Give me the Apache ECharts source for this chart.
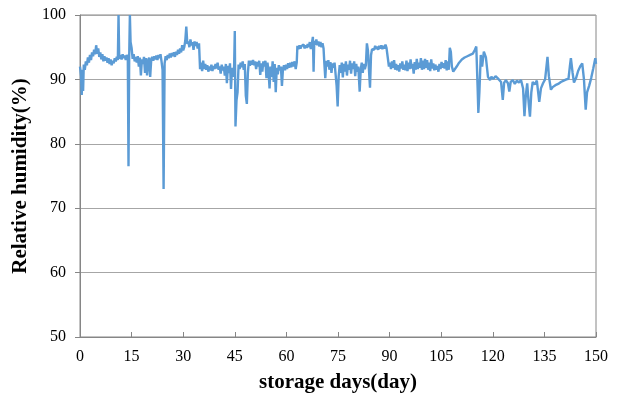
<!DOCTYPE html>
<html><head><meta charset="utf-8">
<script src="https://cdn.jsdelivr.net/npm/echarts@6/dist/echarts.min.js"></script>
<style>html,body{margin:0;padding:0;background:#fff}#c{width:621px;height:407px}</style>
</head><body><div id="c"></div>
<script>
const xTicks = [0,15,30,45,60,75,90,105,120,135,150];
const yTicks = [50,60,70,80,90,100];
const rhData = [
[0,92.0],[0.3,90.5],[0.5,87.6],[0.7,91.5],[0.9,88.2],[1.1,92.3],[1.4,91.5],[1.7,92.8],[2.0,92.2],[2.3,93.4],[2.6,92.6],[2.9,93.8],[3.2,93.0],[3.5,94.2],[3.8,93.6],[4.1,94.6],[4.4,93.9],[4.7,95.3],[5.0,94.0],[5.3,94.8],[5.6,93.5],[5.9,94.2],[6.2,93.1],[6.5,93.9],[6.8,92.8],[7.1,93.6],[7.4,92.9],[7.7,93.4],[8.0,92.6],[8.3,93.3],[8.6,92.4],[8.9,93.1],[9.2,92.2],[9.5,92.9],[9.8,92.5],[10.1,93.3],[10.4,92.8],[10.7,93.5],[11.0,93.0],[11.2,100],[11.4,93.2],[11.8,93.8],[12.1,93.1],[12.4,93.9],[12.7,93.3],[13.0,93.7],[13.3,93.0],[13.6,93.8],[13.9,93.2],[14.1,76.5],[14.3,93.5],[14.5,100],[14.7,95.8],[15.0,94.9],[15.3,93.2],[15.6,93.9],[15.9,92.8],[16.2,93.5],[16.5,92.6],[16.8,93.6],[17.1,92.0],[17.4,93.4],[17.7,90.6],[18.0,93.1],[18.3,92.4],[18.6,93.5],[18.9,91.0],[19.2,93.3],[19.5,90.6],[19.8,92.8],[20.1,93.4],[20.4,90.4],[20.7,93.0],[21.0,93.5],[21.3,92.9],[21.6,93.6],[21.9,93.1],[22.2,93.7],[22.5,93.0],[22.8,93.8],[23.1,93.3],[23.4,93.9],[23.7,92.8],[24.0,91.5],[24.3,73.0],[24.6,92.5],[24.9,93.6],[25.2,93.0],[25.5,93.8],[25.8,93.3],[26.1,94.0],[26.4,93.4],[26.7,94.1],[27.0,93.6],[27.3,94.2],[27.6,93.5],[27.9,94.3],[28.2,93.8],[28.5,94.6],[28.8,94.0],[29.1,94.8],[29.4,94.2],[29.7,95.3],[30.0,94.5],[30.3,95.0],[30.6,96.0],[30.9,98.2],[31.2,95.5],[31.5,95.9],[31.8,95.0],[32.1,96.2],[32.4,95.3],[32.7,95.8],[33.0,94.6],[33.3,95.9],[33.6,95.2],[33.9,95.8],[34.2,94.8],[34.6,95.6],[34.9,91.6],[35.2,92.6],[35.5,91.3],[35.8,92.9],[36.1,91.6],[36.4,92.4],[36.7,91.5],[37.0,92.2],[37.3,91.2],[37.6,92.0],[37.9,91.4],[38.2,92.3],[38.5,91.3],[38.8,92.1],[39.1,91.6],[39.4,92.4],[39.7,91.7],[40.0,92.6],[40.3,91.5],[40.6,92.0],[40.9,90.9],[41.2,92.3],[41.5,91.4],[41.8,92.0],[42.1,90.6],[42.4,92.4],[42.7,89.4],[43.0,92.1],[43.3,91.0],[43.6,92.5],[43.9,88.5],[44.2,91.8],[44.5,90.4],[44.8,92.0],[45.0,97.5],[45.2,82.7],[45.5,86.8],[45.8,88.0],[46.1,92.3],[46.4,91.6],[46.7,92.6],[47.0,91.9],[47.3,92.8],[47.6,91.5],[47.9,92.4],[48.2,87.5],[48.5,86.2],[48.8,91.0],[49.1,92.9],[49.4,92.1],[49.7,92.9],[50.0,92.3],[50.3,93.0],[50.6,92.2],[50.9,92.8],[51.2,91.6],[51.5,92.7],[51.8,92.0],[52.1,92.9],[52.4,90.7],[52.7,92.5],[53.0,91.2],[53.3,92.8],[53.6,92.0],[53.9,92.9],[54.2,90.2],[54.5,92.6],[54.8,91.3],[55.1,88.6],[55.4,92.0],[55.7,90.4],[56.0,92.8],[56.3,89.6],[56.6,92.4],[56.9,88.0],[57.2,91.8],[57.5,90.8],[57.8,92.2],[58.1,91.4],[58.4,92.0],[58.7,89.0],[59.0,91.6],[59.3,92.2],[59.6,91.4],[59.9,92.3],[60.2,91.6],[60.5,92.5],[60.8,91.8],[61.1,92.6],[61.4,91.9],[61.7,92.7],[62.0,92.0],[62.4,92.8],[62.7,91.6],[63.0,92.6],[63.2,95.2],[63.5,94.7],[63.8,95.3],[64.1,94.8],[64.4,95.2],[64.7,94.9],[65.0,95.4],[65.3,94.8],[65.6,95.3],[65.9,94.9],[66.2,95.5],[66.5,95.0],[66.8,95.8],[67.1,94.7],[67.4,95.6],[67.7,96.6],[67.9,91.2],[68.1,96.0],[68.4,95.4],[68.7,96.2],[69.0,95.3],[69.3,95.9],[69.6,95.1],[69.9,95.8],[70.2,95.0],[70.5,95.6],[70.8,94.8],[71.0,92.8],[71.3,90.2],[71.6,92.9],[71.9,92.0],[72.2,93.0],[72.5,91.5],[72.8,92.7],[73.1,91.0],[73.4,92.5],[73.7,91.8],[74.0,92.6],[74.3,90.8],[74.6,89.0],[74.9,85.8],[75.2,90.5],[75.5,92.2],[75.8,91.0],[76.1,92.6],[76.4,90.3],[76.7,92.4],[77.0,91.2],[77.3,92.8],[77.6,90.6],[77.9,92.3],[78.2,91.5],[78.5,92.9],[78.8,90.9],[79.1,92.5],[79.4,91.6],[79.7,92.8],[80.0,90.5],[80.3,92.4],[80.6,91.2],[80.9,92.0],[81.3,88.1],[81.6,91.5],[81.9,92.6],[82.2,91.0],[82.5,92.4],[82.8,91.6],[83.1,92.2],[83.4,95.6],[83.7,94.5],[84.0,91.5],[84.3,88.7],[84.6,93.8],[84.9,94.7],[85.2,95.0],[85.5,94.6],[85.8,95.2],[86.1,94.7],[86.4,95.1],[86.7,94.6],[87.0,95.2],[87.3,94.8],[87.6,95.3],[87.9,94.7],[88.2,95.2],[88.5,94.8],[88.8,95.4],[89.1,94.9],[89.5,95.2],[89.8,92.0],
[90.1,92.6],[90.4,91.6],[90.7,92.8],[91.0,91.8],[91.3,93.0],[91.6,91.5],[91.9,92.4],[92.2,91.4],[92.5,92.2],[92.8,91.2],[93.1,92.5],[93.4,91.7],[93.7,92.8],[94.0,91.5],[94.3,92.3],[94.6,91.4],[94.9,92.9],[95.2,91.3],[95.5,92.6],[95.8,91.6],[96.1,93.1],[96.4,91.7],[96.7,92.4],[97.0,90.9],[97.3,92.7],[97.6,91.5],[97.9,93.2],[98.2,91.6],[98.5,92.6],[98.8,91.8],[99.1,93.3],[99.4,91.5],[99.7,92.9],[100.0,91.6],[100.3,93.2],[100.6,91.8],[100.9,93.0],[101.2,91.5],[101.5,92.6],[101.8,91.3],[102.1,93.1],[102.4,91.7],[102.7,92.5],[103.0,91.4],[103.3,92.3],[103.6,91.5],[103.9,92.1],[104.2,91.2],[104.5,92.4],[104.8,91.6],[105.1,92.7],[105.4,91.8],[105.7,92.5],[106.0,91.7],[106.3,93.0],[106.6,91.4],[106.9,92.8],[107.2,91.5],[107.5,94.9],[107.8,94.3],[108.1,92.0],[108.5,91.2],[108.9,91.4],[109.5,92.0],[110.2,92.6],[111.0,93.1],[111.8,93.4],[112.6,93.6],[113.4,93.8],[114.2,94.0],[114.8,94.6],[115.2,95.1],[115.6,88.5],[115.8,84.8],[116.1,88.0],[116.5,93.8],[116.9,92.0],[117.4,94.3],[118.0,93.4],[118.6,90.4],[119.2,89.9],[119.6,90.4],[120.2,90.1],[120.8,90.5],[121.4,90.2],[121.9,90.4],[122.4,89.6],[122.9,86.8],[123.3,89.5],[123.8,89.9],[124.4,89.4],[124.8,88.1],[125.2,89.6],[125.8,89.9],[126.4,89.3],[127.0,89.8],[127.6,89.5],[128.2,89.9],[128.8,88.6],[129.2,84.3],[129.6,87.5],[130.0,89.4],[130.4,86.5],[130.8,84.2],[131.2,88.0],[131.6,89.6],[132.2,89.2],[132.8,89.8],[133.5,86.5],[134.0,88.6],[134.6,89.4],[135.2,90.0],[135.6,92.0],[135.9,93.5],[136.3,90.5],[136.9,88.4],[137.4,88.8],[138.2,89.1],[139.0,89.3],[139.8,89.6],[140.6,89.8],[141.4,90.0],[142.0,90.1],[142.4,92.0],[142.7,93.3],[143.2,91.0],[143.6,89.5],[144.2,90.2],[144.8,91.3],[145.4,92.0],[146.0,92.5],[146.5,90.0],[147.0,85.3],[147.4,88.0],[148.0,89.0],[148.6,90.2],[149.2,91.7],[149.8,93.3],[150,92.4]
];
const xName = 'storage days(day)';
const yName = 'Relative humidity(%)';

const chart = echarts.init(document.getElementById('c'), null, {renderer:'canvas'});
const font = '"Liberation Serif", "Times New Roman", serif';
chart.setOption({
  animation:false,
  backgroundColor:'#fff',
  grid:{left:80, right:25, top:15, bottom:70, show:true, borderColor:'#868686', borderWidth:1},
  xAxis:{
    type:'value', min:xTicks[0], max:xTicks[xTicks.length-1], interval:15,
    name:xName, nameLocation:'middle', nameGap:35,
    nameTextStyle:{fontFamily:font, fontSize:21, fontWeight:'bold', color:'#000'},
    axisLine:{show:true, lineStyle:{color:'#868686', width:1}},
    axisTick:{show:true, inside:true, length:5, lineStyle:{color:'#868686'}},
    axisLabel:{fontFamily:font, fontSize:16, color:'#000', margin:12},
    splitLine:{show:false}
  },
  yAxis:{
    type:'value', min:yTicks[0], max:yTicks[yTicks.length-1], interval:10,
    name:yName, nameLocation:'middle', nameGap:45,
    nameTextStyle:{fontFamily:font, fontSize:21, fontWeight:'bold', color:'#000'},
    axisLine:{show:true, lineStyle:{color:'#868686', width:1}},
    axisTick:{show:true, inside:false, length:5, lineStyle:{color:'#868686'}},
    axisLabel:{fontFamily:font, fontSize:16, color:'#000', margin:14},
    splitLine:{show:true, lineStyle:{color:'#a6a6a6', width:1}}
  },
  series:[{
    type:'line', data:rhData, showSymbol:false, symbol:'none',
    lineStyle:{color:'#5b9bd5', width:2.4}, clip:true
  }]
});
</script></body></html>
